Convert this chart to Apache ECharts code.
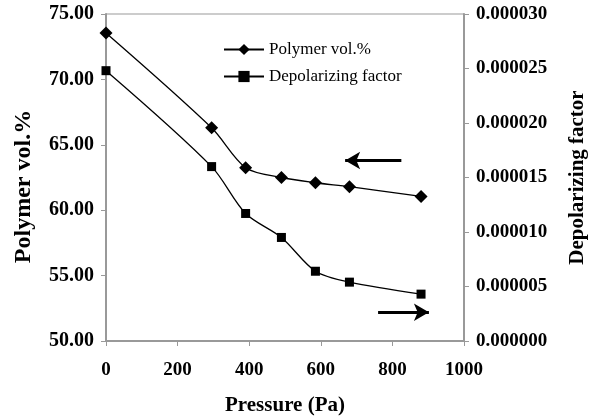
<!DOCTYPE html>
<html lang="en">
<head>
    <meta charset="utf-8"/>
    <title>Polymer vol.% and depolarizing factor vs pressure</title>
    <script src="https://cdn.jsdelivr.net/npm/echarts@6/dist/echarts.min.js"></script>
    <style>
        html, body { margin: 0; padding: 0; background: #fff; }
        #chart { width: 594px; height: 418px; }
    </style>
</head>
<body>
    <div id="chart"></div>
    <script>
        // values
        const pressure = [0, 295, 390, 490, 585, 680, 880];
        const polymerVol = [73.55, 66.3, 63.25, 62.5, 62.1, 61.8, 61.05];
        const depolFactor = [0.0000248, 0.0000160, 0.0000117, 0.0000095, 0.0000064, 0.0000054, 0.0000043];

        const font = 'Liberation Serif';
        const chart = echarts.init(document.getElementById('chart'));

        function pairs(xs, ys) {
            return xs.map(function (x, i) { return [x, ys[i]]; });
        }

        const tickLabel = { fontFamily: font, fontSize: 19, fontWeight: 'bold', color: '#000' };
        const titleStyle = { fontFamily: font, fontSize: 21, fontWeight: 'bold', color: '#000' };

        const option = {
            animation: false,
            textStyle: { fontFamily: font, color: '#000' },
            grid: {
                left: 106, right: 130, top: 14, bottom: 77, outerBoundsMode: 'none',
                show: true, borderColor: '#999', borderWidth: 1
            },
            legend: {
                left: 218, top: 36, orient: 'vertical', itemGap: 10,
                itemWidth: 40, itemHeight: 14,
                textStyle: { fontFamily: font, fontSize: 17, color: '#000' },
                data: ['Polymer vol.%', 'Depolarizing factor']
            },
            xAxis: {
                type: 'value', min: 0, max: 1000, interval: 200,
                name: 'Pressure (Pa)', nameLocation: 'middle', nameGap: 54,
                nameTextStyle: titleStyle,
                axisLine: { lineStyle: { color: '#999', width: 2 } },
                axisTick: { show: true, length: 5, lineStyle: { color: '#999' } },
                axisLabel: Object.assign({ margin: 20, formatter: function (v) { return String(v); } }, tickLabel),
                splitLine: { show: false }
            },
            yAxis: [{
                type: 'value', min: 50, max: 75, interval: 5, position: 'left',
                name: 'Polymer vol.%', nameLocation: 'middle', nameGap: 70,
                nameTextStyle: Object.assign({}, titleStyle, { fontSize: 24, padding: [0, 18, 0, 0] }),
                axisLine: { show: true, lineStyle: { color: '#999', width: 2 } },
                axisTick: { show: true, length: 5, lineStyle: { color: '#999' } },
                axisLabel: Object.assign({ margin: 12, formatter: function (v) { return v.toFixed(2); } }, tickLabel, { fontSize: 20 }),
                splitLine: { show: false }
            }, {
                type: 'value', min: 0, max: 0.00003, interval: 0.000005, position: 'right',
                name: 'Depolarizing factor', nameLocation: 'middle', nameGap: 103, nameRotate: 90,
                nameTextStyle: titleStyle,
                axisLine: { show: true, lineStyle: { color: '#999', width: 2 } },
                axisTick: { show: true, length: 5, lineStyle: { color: '#999' } },
                axisLabel: Object.assign({ margin: 12, formatter: function (v) { return v.toFixed(6); } }, tickLabel),
                splitLine: { show: false }
            }],
            series: [{
                name: 'Polymer vol.%', type: 'line', yAxisIndex: 0, smooth: 0.3,
                data: pairs(pressure, polymerVol),
                symbol: 'diamond', symbolSize: 13,
                lineStyle: { color: '#000', width: 1.3 },
                itemStyle: { color: '#000' },
                markLine: {
                    silent: true, symbolSize: [13, 15],
                    lineStyle: { color: '#000', width: 3, type: 'solid' },
                    label: { show: false },
                    data: [[{ coord: [668, 63.8], symbol: 'arrow' }, { coord: [825, 63.8], symbol: 'none' }],
                           [{ coord: [760, 52.2], symbol: 'none' }, { coord: [902, 52.2], symbol: 'arrow' }]]
                }
            }, {
                name: 'Depolarizing factor', type: 'line', yAxisIndex: 1, smooth: 0.3,
                data: pairs(pressure, depolFactor),
                symbol: 'rect', symbolSize: 9,
                lineStyle: { color: '#000', width: 1.3 },
                itemStyle: { color: '#000' }
            }]
        };
        chart.setOption(option);
    </script>
</body>
</html>
